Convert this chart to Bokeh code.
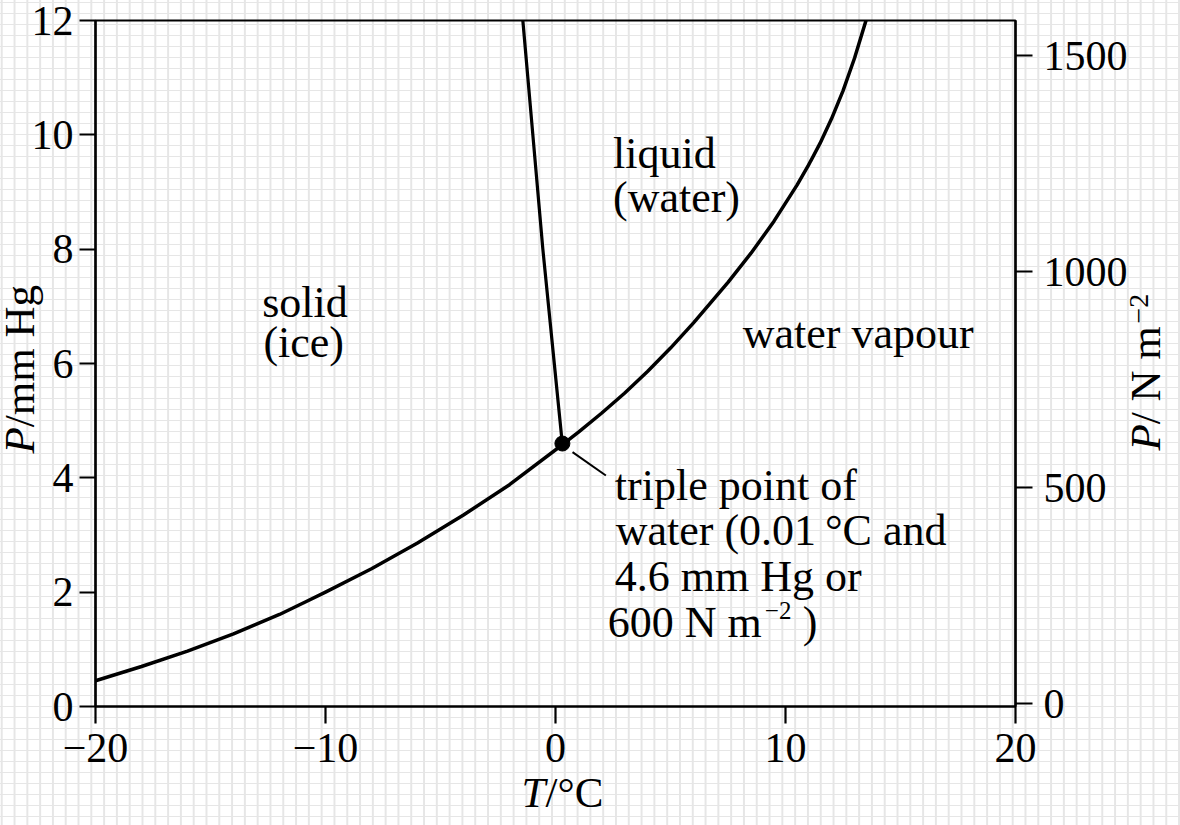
import math
from bokeh.plotting import figure
from bokeh.models import Range1d, LinearAxis, FixedTicker, Label
from bokeh.embed import file_html
from bokeh.resources import INLINE

# ---------------- data ----------------
# sublimation / vaporisation curve (ice-vapour and water-vapour), T in deg C, P in mm Hg
vap_T = [-20, -18, -16, -14, -12, -10, -8, -6, -4, -2, 0.3, 1, 2, 3, 4, 5, 6, 7.5, 8.5, 9.5,
         10.5, 11, 11.5, 12, 12.5, 13, 13.5]
vap_P = [0.45, 0.70, 0.97, 1.27, 1.61, 2.00, 2.41, 2.86, 3.35, 3.88, 4.58, 4.80, 5.13, 5.48, 5.86, 6.27,
         6.71, 7.42, 7.93, 8.49, 9.12, 9.47, 9.85, 10.28, 10.77, 11.34, 12.0]
# melting (solid-liquid) line
fus_T = [0.3, -0.55, -1.42]
fus_P = [4.58, 8.0, 12.0]
# triple point
triple_T = [0.3]
triple_P = [4.6]

x_ticks = [-20, -10, 0, 10, 20]
x_tick_labels = {-20: "\u221220", -10: "\u221210", 0: "0", 10: "10", 20: "20"}
y_ticks = [0, 2, 4, 6, 8, 10, 12]
y2_ticks = [0, 500, 1000, 1500]

# axis titles: italic symbol + upright unit
x_title = ["T", "/\u00b0C"]
y_title = ["P", "/mm Hg"]
y2_title = ["P", "/ N m", "\u22122"]

region_texts = ["solid", "(ice)", "liquid", "(water)", "water vapour"]
triple_texts = ["triple point of", "water (0.01\u2009\u00b0C and", "4.6 mm Hg or", "600 N m"]

FONT = "Liberation Serif"
TICK_FS = "42px"
TEXT_FS = "44px"
TITLE_FS = "43px"

# ---------------- figure ----------------
# generous borders hold the title labels; the canvas is pinned so the frame
# sits at x=95..1015, y=20..706 of the window (the rest falls outside it)
BL, BR, BT, BB = 300, 340, 20, 260
FW, FH = 920, 686
p = figure(width=BL + FW + BR, height=BT + FH + BB,
           x_range=Range1d(-20, 20), y_range=Range1d(0, 12),
           output_backend="svg", toolbar_location=None,
           min_border_left=BL, min_border_right=BR,
           min_border_top=BT, min_border_bottom=BB)
p.extra_y_ranges = {"pa": Range1d(-6, 1582)}

# graph-paper look: CSS grid behind a transparent canvas
p.background_fill_color = None
p.border_fill_color = None
p.styles = {
    "position": "fixed",
    "left": "%dpx" % (95 - BL),
    "top": "0px",
    "background-color": "white",
    "background-image": ("linear-gradient(to right, #e6e6e6 1.5px, transparent 1.5px), "
                         "linear-gradient(to bottom, #e6e6e6 1.5px, transparent 1.5px)"),
    "background-size": "12.8px 11px",
    "background-position": "1px 2px",
}

p.grid.visible = False
p.outline_line_color = "black"
p.outline_line_width = 2.2
p.outline_line_alpha = 1.0

def style_axis(ax, tick_len, standoff):
    ax.axis_line_width = 2.2
    ax.axis_line_color = "black"
    ax.major_tick_line_width = 2.2
    ax.major_tick_line_color = "black"
    ax.major_tick_out = tick_len
    ax.major_tick_in = 0
    ax.minor_tick_line_color = None
    ax.major_label_text_font = FONT
    ax.major_label_text_font_size = TICK_FS
    ax.major_label_text_color = "black"
    ax.major_label_standoff = standoff

xa = p.xaxis[0]
xa.ticker = FixedTicker(ticks=x_ticks)
xa.major_label_overrides = {k: v for k, v in x_tick_labels.items()}
style_axis(xa, 17, 10)

ya = p.yaxis[0]
ya.ticker = FixedTicker(ticks=y_ticks)
style_axis(ya, 16, 6)

ra = LinearAxis(y_range_name="pa", ticker=FixedTicker(ticks=y2_ticks))
style_axis(ra, 17, 11)
p.add_layout(ra, "right")

# ---------------- curves ----------------
p.line(vap_T, vap_P, line_color="black", line_width=3.5, line_join="round")
p.line(fus_T, fus_P, line_color="black", line_width=3.2, line_join="round")
p.scatter(triple_T, triple_P, size=15, fill_color="black", line_color="black")

# leader line from the triple point to its note
leader_x0, leader_y0, leader_x1, leader_y1 = 0.74, 4.45, 2.19, 4.04
p.segment(x0=[leader_x0], y0=[leader_y0], x1=[leader_x1], y1=[leader_y1],
          line_color="black", line_width=2)

# ---------------- texts ----------------
def lab(x, y, text, size=TEXT_FS, style="normal", angle=0.0, place=None):
    label = Label(x=x, y=y, text=text, text_font=FONT, text_font_size=size,
                  text_font_style=style, angle=angle, text_align="left",
                  text_baseline="alphabetic", text_color="black")
    if place is None:
        p.add_layout(label)
    else:
        p.add_layout(label, place)

# region names
lab(-12.75, 7.07, region_texts[0])
lab(-12.70, 6.37, region_texts[1])
lab(2.50, 9.67, region_texts[2])
lab(2.50, 8.90, region_texts[3])
lab(8.14, 6.52, region_texts[4])

# triple point note
lab(2.58, 3.862, triple_texts[0])
lab(2.62, 3.075, triple_texts[1])
lab(2.58, 2.27, triple_texts[2])
lab(2.27, 1.465, triple_texts[3])
lab(9.10, 1.68, "\u22122", size="25px")
lab(10.75, 1.465, ")")

# axis titles (placed in the side panels so they are not clipped by the frame)
rot = math.pi / 2
lab(-23.30, 4.426, y_title[0], size=TITLE_FS, style="italic", angle=rot, place="left")
lab(-23.30, 4.886, y_title[1], size=TITLE_FS, angle=rot, place="left")
lab(25.65, 4.478, y2_title[0], size=TITLE_FS, style="italic", angle=rot, place="right")
lab(25.65, 4.938, y2_title[1], size=TITLE_FS, angle=rot, place="right")
lab(25.35, 6.70, y2_title[2], size="28px", angle=rot, place="right")
lab(-1.478, -1.505, x_title[0], size=TITLE_FS, style="italic", place="below")
lab(-0.435, -1.505, x_title[1], size=TITLE_FS, place="below")

open("out.html", "w").write(file_html(p, INLINE))
